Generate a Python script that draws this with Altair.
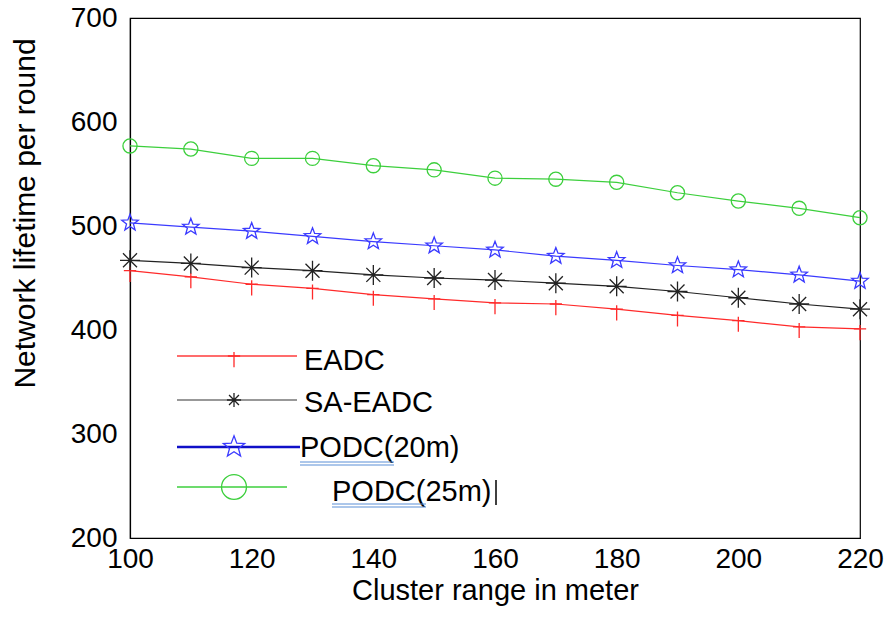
import altair as alt
import pandas as pd

# ---- data ----
cluster_range = [100, 110, 120, 130, 140, 150, 160, 170, 180, 190, 200, 210, 220]
series_names = ["EADC", "SA-EADC", "PODC(20m)", "PODC(25m)"]
eadc = [457, 451, 444, 440, 434, 430, 426, 425, 420, 414, 409, 403, 401]
sa_eadc = [467, 464, 460, 457, 453, 450, 448, 445, 442, 437, 431, 425, 420]
podc20 = [503, 499, 495, 490, 485, 481, 477, 471, 467, 462, 458, 453, 447]
podc25 = [577, 574, 565, 565, 558, 554, 546, 545, 542, 532, 524, 517, 508]
y_ticks = [200, 300, 400, 500, 600, 700]
x_ticks = [100, 120, 140, 160, 180, 200, 220]

colors = ["#ff2a2a", "#222222", "#3a3aff", "#3ccf3c"]
legend_line_colors = ["#ff3b3b", "#333333", "#1010c8", "#3ccf3c"]
plus_path = "M0,-0.35L0,1M-0.55,0L0.55,0"
aster_path = "M-1,0L1,0M0,-1L0,1M-0.7,-0.7L0.7,0.7M-0.7,0.7L0.7,-0.7"
star_path = ("M0,-1L0.247,-0.34L0.951,-0.309L0.399,0.13L0.588,0.809L0,0.42"
             "L-0.588,0.809L-0.399,0.13L-0.951,-0.309L-0.247,-0.34Z")
shapes = [plus_path, aster_path, star_path, "circle"]
sizes = [500, 200, 500, 620]

rows = []
for name, vals in zip(series_names, [eadc, sa_eadc, podc20, podc25]):
    for x, v in zip(cluster_range, vals):
        rows.append({"range": x, "lifetime": v, "series": name})
df = pd.DataFrame(rows)

FONT = "Liberation Sans"

xs = alt.X("range:Q", scale=alt.Scale(domain=[100, 220], nice=False),
           axis=alt.Axis(values=x_ticks, title="Cluster range in meter", format="d"))
ys = alt.Y("lifetime:Q", scale=alt.Scale(domain=[200, 700], nice=False),
           axis=alt.Axis(values=y_ticks, title="Network lifetime per round"))

color_scale = alt.Scale(domain=series_names, range=colors)

lines = alt.Chart(df).mark_line(strokeWidth=1.2, clip=False).encode(
    x=xs, y=ys,
    color=alt.Color("series:N", scale=color_scale, legend=None),
)

points = alt.Chart(df).mark_point(filled=False, strokeWidth=1.3, opacity=1, clip=False).encode(
    x=xs, y=ys,
    color=alt.Color("series:N", scale=color_scale, legend=None),
    shape=alt.Shape("series:N", scale=alt.Scale(domain=series_names, range=shapes), legend=None),
    size=alt.Size("series:N", scale=alt.Scale(domain=series_names, range=sizes), legend=None),
)

# ---- hand-drawn legend inside the plot (pixel positions in plot area) ----
legend_line_y = [338, 382, 429, 469]
legend_text_y = [343, 385, 430, 474]
legend_text_x = [174, 174, 170, 202]
legend_line_x2 = [167, 167, 170, 157]
legend_width = [1.5, 1.2, 2.6, 1.5]

layers = [lines, points]
one = pd.DataFrame({"k": [0]})
for i, name in enumerate(series_names):
    ly = legend_line_y[i]
    layers.append(alt.Chart(one).mark_rule(color=legend_line_colors[i], strokeWidth=legend_width[i]).encode(
        x=alt.value(47), x2=alt.value(legend_line_x2[i]), y=alt.value(ly)))
    layers.append(alt.Chart(one).mark_point(filled=False, strokeWidth=1.3, opacity=1,
                                            color=colors[i], shape=shapes[i], size=sizes[i]).encode(
        x=alt.value(104), y=alt.value(ly)))
    layers.append(alt.Chart(one).mark_text(align="left", baseline="middle", font=FONT,
                                           fontSize=29, color="black", text=name).encode(
        x=alt.value(legend_text_x[i]), y=alt.value(legend_text_y[i])))

# spell-check style double underline and text cursor seen in the reference
for (x1, x2, uy) in [(170, 264, 444), (170, 264, 447), (202, 296, 486), (202, 296, 489)]:
    layers.append(alt.Chart(one).mark_rule(color="#5b8fd6", strokeWidth=1).encode(
        x=alt.value(x1), x2=alt.value(x2), y=alt.value(uy)))
layers.append(alt.Chart(one).mark_rule(color="black", strokeWidth=1.5).encode(
    x=alt.value(366), y=alt.value(462), y2=alt.value(487)))

chart = alt.layer(*layers).properties(
    width=730, height=520,
    autosize=alt.AutoSizeParams(type="none"),
    padding={"left": 122, "top": 10, "right": 24, "bottom": 74},
).configure_view(
    stroke="black", strokeWidth=1.2,
).configure_axis(
    grid=False, domainColor="black", domainWidth=1.2, labelFlush=False,
    ticks=False, labelFont=FONT, labelFontSize=28, labelColor="black",
    titleFont=FONT, titleColor="black", titleFontWeight="normal",
).configure_axisX(
    labelPadding=7, titleFontSize=29, titlePadding=3,
).configure_axisY(
    labelPadding=13, titleFontSize=30, titleX=-120, titleY=195,
    titleAlign="center", titleBaseline="top", titleAngle=270,
)

chart.save("out.html", embed_options={"renderer": "svg", "actions": False})
